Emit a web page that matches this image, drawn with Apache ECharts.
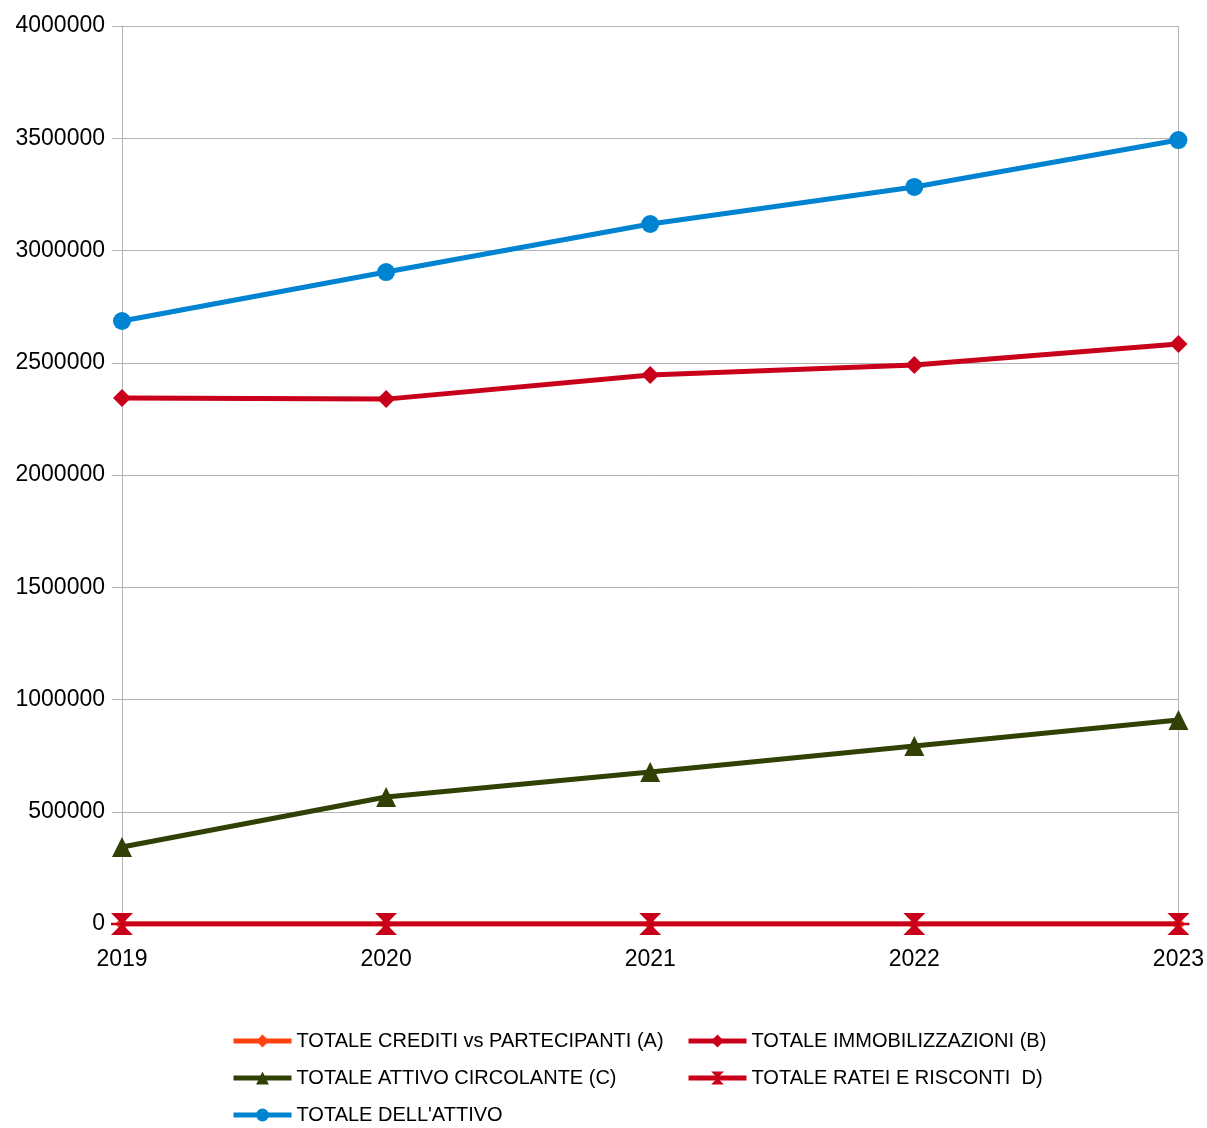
<!DOCTYPE html>
<html><head><meta charset="utf-8">
<script src="https://cdn.jsdelivr.net/npm/echarts@6/dist/echarts.min.js"></script>
<style>html,body{margin:0;padding:0;background:#fff}#c{width:1207px;height:1128px}</style>
</head><body><div id="c"></div>
<script>
const years = ['2019','2020','2021','2022','2023'];
const yTicks = [0,500000,1000000,1500000,2000000,2500000,3000000,3500000,4000000];
const nameA = 'TOTALE CREDITI vs PARTECIPANTI (A)';
const nameB = 'TOTALE IMMOBILIZZAZIONI (B)';
const nameC = 'TOTALE ATTIVO CIRCOLANTE (C)';
const nameD = 'TOTALE RATEI E RISCONTI  D)';
const nameT = "TOTALE DELL'ATTIVO";
const valsA = [0,0,0,0,0];
const valsB = [2343000,2338000,2445000,2490000,2583000];
const valsC = [343000,566000,677000,793000,909000];
const valsD = [0,0,0,0,0];
const valsT = [2686000,2904000,3118000,3283000,3492000];

const hourglass = 'path://M0,0 L10,0 L5.6,4.4 L10,4.4 L10,5.6 L5.6,5.6 L10,10 L0,10 L4.4,5.6 L0,5.6 L0,4.4 L4.4,4.4 Z';
const legendFont = {fontFamily:'Liberation Sans', fontSize:20, color:'#000'};
function s(name, data, color, symbol, size, z){
  return {name, type:'line', data, color, symbol, symbolSize:size, showSymbol:true,
    lineStyle:{width:5, color}, itemStyle:{color}, z, animation:false};
}
const legBase = {orient:'vertical', top:1026, height:120, itemWidth:58, itemHeight:16, itemGap:17,
  textStyle:legendFont, lineStyle:{width:5}};
const chart = echarts.init(document.getElementById('c'));
chart.setOption({
  animation:false,
  grid:{left:122, right:27, top:26, bottom:204},
  xAxis:{type:'category', data:years, boundaryGap:false,
    axisLine:{show:true, lineStyle:{color:'#b3b3b3', width:1}},
    axisTick:{show:true, length:10, lineStyle:{color:'#b3b3b3'}},
    axisLabel:{color:'#000', fontFamily:'Liberation Sans', fontSize:23, margin:24},
    splitLine:{show:true, interval:(i)=>i===4, lineStyle:{color:'#b3b3b3', width:1}}},
  yAxis:{type:'value', min:0, max:4000000, interval:500000,
    axisLine:{show:true, lineStyle:{color:'#b3b3b3', width:1}},
    axisTick:{show:true, length:10, lineStyle:{color:'#b3b3b3'}},
    axisLabel:{color:'#000', fontFamily:'Liberation Sans', fontSize:23, margin:17,
      formatter:(v)=>String(v)},
    splitLine:{show:true, lineStyle:{color:'#b3b3b3', width:1}}},
  legend:[
    Object.assign({}, legBase, {left:226, data:[nameA, nameC, nameT]}),
    Object.assign({}, legBase, {left:681, data:[nameB, nameD]})
  ],
  series:[
    s(nameA, valsA, '#ff420e', 'diamond', 14, 2),
    s(nameB, valsB, '#c9001a', 'diamond', 18, 3),
    s(nameC, valsC, '#314004', 'triangle', 20, 4),
    s(nameD, valsD, '#c9001a', hourglass, 22, 5),
    s(nameT, valsT, '#0084d1', 'circle', 18, 6)
  ]
});
</script></body></html>
